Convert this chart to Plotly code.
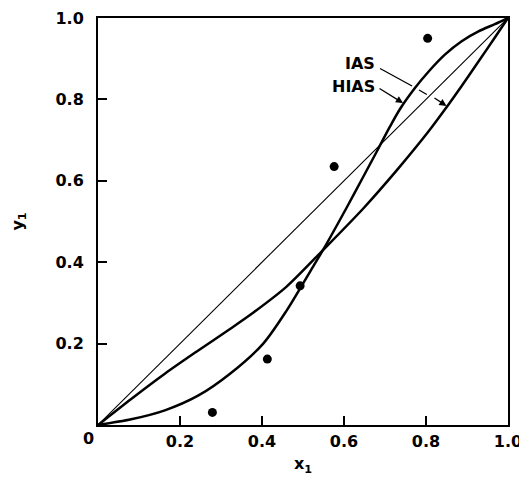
import plotly.graph_objects as go

# Experimental points
exp_x = [0.279, 0.413, 0.493, 0.576, 0.804]
exp_y = [0.031, 0.162, 0.342, 0.635, 0.950]

# HIAS curve (S-shaped)
hias_x = [0.0, 0.081, 0.163, 0.244, 0.322, 0.403, 0.46, 0.525, 0.55, 0.607, 0.647,
          0.68, 0.712, 0.737, 0.773, 0.806, 0.846, 0.887, 0.928, 0.968, 1.0]
hias_y = [0.0, 0.014, 0.036, 0.072, 0.126, 0.200, 0.281, 0.390, 0.432, 0.535, 0.61,
          0.672, 0.733, 0.777, 0.828, 0.868, 0.910, 0.943, 0.967, 0.985, 1.0]

# IAS curve
ias_x = [0.0, 0.081, 0.163, 0.24, 0.322, 0.38, 0.46, 0.55, 0.647, 0.728, 0.806,
         0.846, 0.887, 0.928, 0.968, 1.0]
ias_y = [0.0, 0.064, 0.126, 0.180, 0.236, 0.277, 0.340, 0.431, 0.532, 0.625, 0.721,
         0.775, 0.833, 0.893, 0.952, 1.0]

# Diagonal y = x
diag_x = [0.0, 1.0]
diag_y = [0.0, 1.0]

x_ticks = [0.2, 0.4, 0.6, 0.8, 1.0]
x_tick_labels = ["0.2", "0.4", "0.6", "0.8", "1.0"]
y_ticks = [0.2, 0.4, 0.6, 0.8, 1.0]
y_tick_labels = ["0.2", "0.4", "0.6", "0.8", "1.0"]

FONT = "DejaVu Sans"

fig = go.Figure()
fig.add_trace(go.Scatter(x=diag_x, y=diag_y, mode="lines",
                         line=dict(color="black", width=1.1), showlegend=False))
fig.add_trace(go.Scatter(x=ias_x, y=ias_y, mode="lines",
                         line=dict(color="black", width=2.5, shape="spline", smoothing=0.8),
                         showlegend=False))
fig.add_trace(go.Scatter(x=hias_x, y=hias_y, mode="lines",
                         line=dict(color="black", width=2.5, shape="spline", smoothing=0.8),
                         showlegend=False))
fig.add_trace(go.Scatter(x=exp_x, y=exp_y, mode="markers",
                         marker=dict(color="black", size=9), showlegend=False))

# IAS pointer (broken where it crosses the other lines)
fig.add_shape(type="line", x0=0.688, y0=0.876, x1=0.766, y1=0.833,
              line=dict(color="black", width=1.3))
fig.add_shape(type="line", x0=0.783, y0=0.823, x1=0.802, y1=0.812,
              line=dict(color="black", width=1.3))
fig.add_annotation(x=0.850, y=0.784, ax=0.817, ay=0.806, axref="x", ayref="y",
                   xref="x", yref="y", text="", showarrow=True,
                   arrowhead=2, arrowsize=1.1, arrowwidth=1.3, arrowcolor="black",
                   standoff=0, startstandoff=0)
# HIAS pointer
fig.add_annotation(x=0.744, y=0.791, ax=0.683, ay=0.829, axref="x", ayref="y",
                   xref="x", yref="y", text="", showarrow=True,
                   arrowhead=2, arrowsize=1.1, arrowwidth=1.3, arrowcolor="black",
                   standoff=0, startstandoff=0)

lab_font = dict(family=FONT, size=16, color="black", weight="bold")
fig.add_annotation(x=0.68, y=0.887, xref="x", yref="y", text="IAS", showarrow=False,
                   xanchor="right", yanchor="middle", font=lab_font)
fig.add_annotation(x=0.68, y=0.831, xref="x", yref="y", text="HIAS", showarrow=False,
                   xanchor="right", yanchor="middle", font=lab_font)
# Origin label
fig.add_annotation(x=-0.024, y=-0.032, xref="paper", yref="paper", text="0",
                   showarrow=False, xanchor="center", yanchor="middle", font=lab_font)

axis_common = dict(range=[0, 1], showgrid=False, zeroline=False, showline=True,
                   linecolor="black", linewidth=2, mirror=True, ticks="inside",
                   ticklen=9, tickwidth=2, tickcolor="black", automargin=False,
                   tickfont=dict(family=FONT, size=16, color="black", weight="bold"))

fig.update_xaxes(**axis_common, tickvals=x_ticks, ticktext=x_tick_labels,
                 ticklabelstandoff=1,
                 title=dict(text="x<sub>1</sub>", font=lab_font, standoff=8))
fig.update_yaxes(**axis_common, tickvals=y_ticks, ticktext=y_tick_labels,
                 ticklabelstandoff=9,
                 title=dict(text="y<sub>1</sub>", font=lab_font, standoff=30))

# The page body has an 8px margin, so the figure is sized to fit within it
fig.update_layout(width=519, height=493, plot_bgcolor="white", paper_bgcolor="white",
                  margin=dict(l=90, r=19, t=10, b=76))

fig.write_html("out.html")
